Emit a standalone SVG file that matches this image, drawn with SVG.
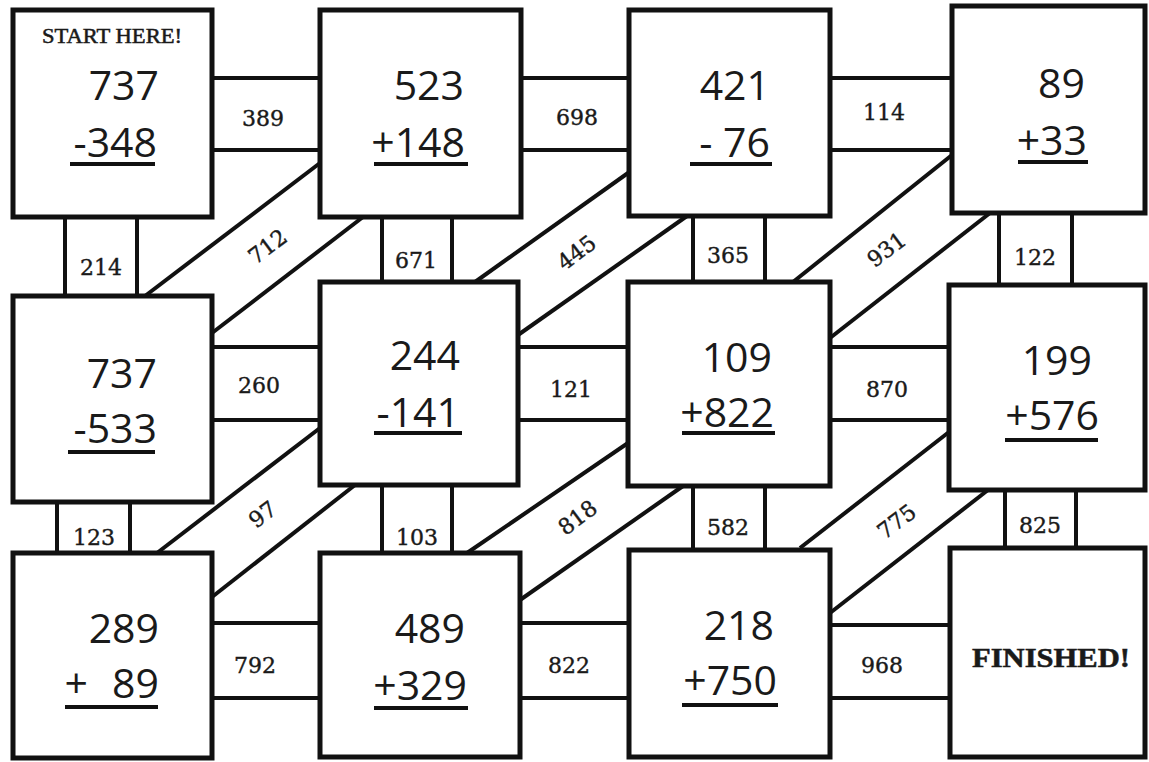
<svg xmlns="http://www.w3.org/2000/svg" width="1149" height="762" viewBox="0 0 1149 762">
<style>
.box{fill:#fff;stroke:#111;stroke-width:5}
.ln{stroke:#111;stroke-width:4;fill:none}
.ul{stroke:#111;stroke-width:4}
.num{font-family:"Open Sans","Liberation Sans",sans-serif;font-size:41px;fill:#1a1a1a;text-anchor:end}
.lbl{font-family:"DejaVu Serif","Liberation Serif",serif;font-size:22px;fill:#1a1a1a;stroke:#1a1a1a;stroke-width:0.4;text-anchor:middle}
.ttl{font-family:"Liberation Serif",serif;fill:#1a1a1a;stroke:#1a1a1a;stroke-width:0.5}
</style>
<rect x="0" y="0" width="1149" height="762" fill="#fff"/>
<g id="connectors">
  <!-- horizontal -->
  <line class="ln" x1="212" y1="78" x2="320" y2="78"/><line class="ln" x1="212" y1="150" x2="320" y2="150"/>
  <line class="ln" x1="521" y1="78" x2="629" y2="78"/><line class="ln" x1="521" y1="150" x2="629" y2="150"/>
  <line class="ln" x1="830" y1="78" x2="952" y2="78"/><line class="ln" x1="830" y1="150" x2="952" y2="150"/>
  <line class="ln" x1="212" y1="347" x2="320" y2="347"/><line class="ln" x1="212" y1="420" x2="320" y2="420"/>
  <line class="ln" x1="518" y1="347" x2="628" y2="347"/><line class="ln" x1="518" y1="420" x2="628" y2="420"/>
  <line class="ln" x1="830" y1="347" x2="949" y2="347"/><line class="ln" x1="830" y1="420" x2="949" y2="420"/>
  <line class="ln" x1="212" y1="623" x2="320" y2="623"/><line class="ln" x1="212" y1="698" x2="320" y2="698"/>
  <line class="ln" x1="520" y1="623" x2="629" y2="623"/><line class="ln" x1="520" y1="698" x2="629" y2="698"/>
  <line class="ln" x1="830" y1="625" x2="950" y2="625"/><line class="ln" x1="830" y1="698" x2="950" y2="698"/>
  <!-- vertical -->
  <line class="ln" x1="65" y1="217" x2="65" y2="296"/><line class="ln" x1="137" y1="217" x2="137" y2="296"/>
  <line class="ln" x1="382" y1="217" x2="382" y2="282"/><line class="ln" x1="452" y1="217" x2="452" y2="282"/>
  <line class="ln" x1="693" y1="216" x2="693" y2="282"/><line class="ln" x1="765" y1="216" x2="765" y2="282"/>
  <line class="ln" x1="999" y1="213" x2="999" y2="285"/><line class="ln" x1="1072" y1="213" x2="1072" y2="285"/>
  <line class="ln" x1="57" y1="502" x2="57" y2="553"/><line class="ln" x1="130" y1="502" x2="130" y2="553"/>
  <line class="ln" x1="382" y1="485" x2="382" y2="553"/><line class="ln" x1="452" y1="485" x2="452" y2="553"/>
  <line class="ln" x1="693" y1="486" x2="693" y2="550"/><line class="ln" x1="765" y1="486" x2="765" y2="550"/>
  <line class="ln" x1="1005" y1="490" x2="1005" y2="548"/><line class="ln" x1="1076" y1="490" x2="1076" y2="548"/>
  <!-- diagonal -->
  <line class="ln" x1="145" y1="296" x2="320" y2="163"/><line class="ln" x1="212" y1="333" x2="363" y2="217"/>
  <line class="ln" x1="475" y1="282" x2="628" y2="173"/><line class="ln" x1="518" y1="335" x2="687" y2="216"/>
  <line class="ln" x1="793" y1="282" x2="952" y2="155"/><line class="ln" x1="830" y1="338" x2="990" y2="213"/>
  <line class="ln" x1="157" y1="553" x2="320" y2="428"/><line class="ln" x1="212" y1="597" x2="355" y2="485"/>
  <line class="ln" x1="467" y1="553" x2="628" y2="443"/><line class="ln" x1="520" y1="600" x2="683" y2="486"/>
  <line class="ln" x1="800" y1="548" x2="949" y2="432"/><line class="ln" x1="830" y1="613" x2="988" y2="490"/>
  <!-- labels -->
  <text class="lbl" x="263" y="126">389</text>
  <text class="lbl" x="577" y="125">698</text>
  <text class="lbl" x="884" y="120">114</text>
  <text class="lbl" x="101" y="275">214</text>
  <text class="lbl" x="416" y="268">671</text>
  <text class="lbl" x="728" y="263">365</text>
  <text class="lbl" x="1035" y="265">122</text>
  <text class="lbl" x="259" y="393">260</text>
  <text class="lbl" x="571" y="397">121</text>
  <text class="lbl" x="887" y="397">870</text>
  <text class="lbl" x="94" y="545">123</text>
  <text class="lbl" x="417" y="545">103</text>
  <text class="lbl" x="728" y="535">582</text>
  <text class="lbl" x="1040" y="533">825</text>
  <text class="lbl" x="255" y="673">792</text>
  <text class="lbl" x="569" y="673">822</text>
  <text class="lbl" x="882" y="673">968</text>
  <text class="lbl" transform="translate(268,247) rotate(-37)" y="7">712</text>
  <text class="lbl" transform="translate(577,253) rotate(-37)" y="7">445</text>
  <text class="lbl" transform="translate(887,250) rotate(-37)" y="7">931</text>
  <text class="lbl" transform="translate(263,515) rotate(-37)" y="7">97</text>
  <text class="lbl" transform="translate(578,518) rotate(-37)" y="7">818</text>
  <text class="lbl" transform="translate(897,522) rotate(-37)" y="7">775</text>
</g>
<g id="box-start">
  <rect class="box" x="13" y="10" width="199" height="207"/>
  <text class="ttl" x="42" y="43" font-size="20" textLength="140" lengthAdjust="spacingAndGlyphs">START HERE!</text>
  <text class="num" x="159" y="100">737</text>
  <text class="num" x="157" y="157">-348</text>
  <line class="ul" x1="70" y1="164" x2="155" y2="164"/>
</g>
<g id="box-523">
  <rect class="box" x="320" y="10" width="201" height="207"/>
  <text class="num" x="464" y="100">523</text>
  <text class="num" x="465" y="157">+148</text>
  <line class="ul" x1="374" y1="164" x2="468" y2="164"/>
</g>
<g id="box-421">
  <rect class="box" x="629" y="10" width="201" height="206"/>
  <text class="num" x="770" y="100">421</text>
  <text class="num" x="770" y="157">- 76</text>
  <line class="ul" x1="690" y1="164" x2="772" y2="164"/>
</g>
<g id="box-89">
  <rect class="box" x="952" y="6" width="193" height="207"/>
  <text class="num" x="1085" y="98">89</text>
  <text class="num" x="1087" y="155">+33</text>
  <line class="ul" x1="1018" y1="162" x2="1088" y2="162"/>
</g>
<g id="box-737">
  <rect class="box" x="13" y="296" width="199" height="206"/>
  <text class="num" x="157" y="388">737</text>
  <text class="num" x="157" y="443">-533</text>
  <line class="ul" x1="68" y1="452" x2="155" y2="452"/>
</g>
<g id="box-244">
  <rect class="box" x="320" y="282" width="198" height="203"/>
  <text class="num" x="460" y="370">244</text>
  <text class="num" x="460" y="427">-141</text>
  <line class="ul" x1="374" y1="433" x2="462" y2="433"/>
</g>
<g id="box-109">
  <rect class="box" x="628" y="282" width="202" height="204"/>
  <text class="num" x="772" y="372">109</text>
  <text class="num" x="774" y="427">+822</text>
  <line class="ul" x1="682" y1="433" x2="775" y2="433"/>
</g>
<g id="box-199">
  <rect class="box" x="949" y="285" width="196" height="205"/>
  <text class="num" x="1092" y="375">199</text>
  <text class="num" x="1099" y="430">+576</text>
  <line class="ul" x1="1005" y1="440" x2="1098" y2="440"/>
</g>
<g id="box-289">
  <rect class="box" x="13" y="553" width="199" height="205"/>
  <text class="num" x="159" y="643">289</text>
  <text class="num" x="88" y="698">+</text>
  <text class="num" x="159" y="698">89</text>
  <line class="ul" x1="65" y1="707" x2="158" y2="707"/>
</g>
<g id="box-489">
  <rect class="box" x="320" y="553" width="200" height="204"/>
  <text class="num" x="465" y="643">489</text>
  <text class="num" x="467" y="700">+329</text>
  <line class="ul" x1="374" y1="708" x2="468" y2="708"/>
</g>
<g id="box-218">
  <rect class="box" x="629" y="550" width="201" height="207"/>
  <text class="num" x="774" y="640">218</text>
  <text class="num" x="777" y="695">+750</text>
  <line class="ul" x1="682" y1="705" x2="778" y2="705"/>
</g>
<g id="box-finished">
  <rect class="box" x="950" y="548" width="195" height="209"/>
  <text class="ttl" x="972" y="667" font-size="27" font-weight="bold" textLength="158" lengthAdjust="spacingAndGlyphs">FINISHED!</text>
</g>
</svg>
